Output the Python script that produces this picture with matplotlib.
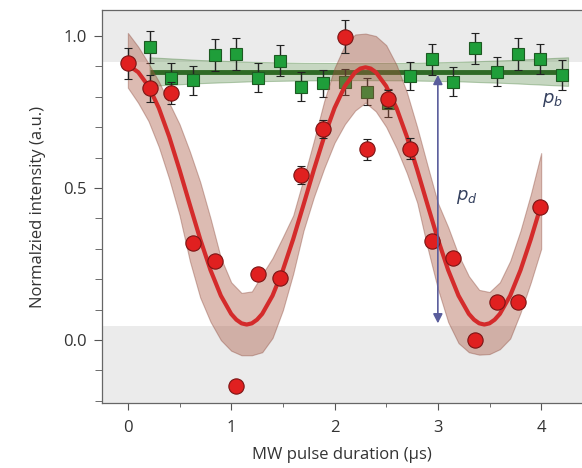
import numpy as np
import matplotlib.pyplot as plt
from matplotlib.ticker import MultipleLocator

plt.rcParams['font.family'] = ['Open Sans', 'DejaVu Sans']

# Datos
t_rojo = [0.00, 0.21, 0.42, 0.63, 0.84, 1.05, 1.26, 1.47, 1.68, 1.89,
          2.10, 2.31, 2.52, 2.73, 2.94, 3.15, 3.36, 3.57, 3.78, 3.99]
y_rojo = [0.910, 0.828, 0.813, 0.320, 0.261, -0.150, 0.217, 0.203, 0.543, 0.695,
          0.998, 0.627, 0.793, 0.630, 0.325, 0.269, 0.000, 0.126, 0.124, 0.436]
err_rojo = [0.050, 0.045, 0.035, 0.015, 0.015, 0.015, 0.015, 0.015, 0.030, 0.030,
            0.055, 0.035, 0.030, 0.035, 0.015, 0.015, 0.010, 0.015, 0.015, 0.015]

t_verde = [0.21, 0.42, 0.63, 0.84, 1.05, 1.26, 1.47, 1.68, 1.89, 2.10,
           2.31, 2.52, 2.73, 2.94, 3.15, 3.36, 3.57, 3.78, 3.99, 4.20]
y_verde = [0.963, 0.861, 0.855, 0.938, 0.940, 0.863, 0.919, 0.833, 0.844, 0.850,
           0.817, 0.779, 0.868, 0.924, 0.850, 0.960, 0.883, 0.940, 0.924, 0.872]
err_verde = [0.052, 0.050, 0.048, 0.052, 0.052, 0.047, 0.050, 0.047, 0.045, 0.043,
             0.044, 0.046, 0.047, 0.051, 0.047, 0.051, 0.048, 0.052, 0.050, 0.048]

# ajuste (curva roja)
t_ajuste = [0.0, 0.05, 0.1, 0.2, 0.3, 0.4, 0.5, 0.6, 0.7, 0.8, 0.9,
            1.0, 1.05, 1.1, 1.15, 1.2, 1.25, 1.3, 1.4, 1.5, 1.6, 1.7, 1.8, 1.9,
            2.0, 2.1, 2.2, 2.25, 2.3, 2.35, 2.4, 2.5, 2.6, 2.7, 2.8, 2.9,
            3.0, 3.1, 3.2, 3.3, 3.35, 3.4, 3.45, 3.5, 3.55, 3.6, 3.7, 3.8, 3.9, 4.0]
y_ajuste = [0.897, 0.893, 0.881, 0.835, 0.763, 0.669, 0.560, 0.445, 0.332, 0.230, 0.146,
            0.086, 0.067, 0.055, 0.051, 0.055, 0.067, 0.086, 0.146, 0.230, 0.332, 0.445, 0.560, 0.669,
            0.763, 0.835, 0.881, 0.893, 0.897, 0.893, 0.881, 0.835, 0.763, 0.669, 0.560, 0.445,
            0.332, 0.230, 0.146, 0.086, 0.067, 0.055, 0.051, 0.055, 0.067, 0.086, 0.146, 0.230, 0.332, 0.445]

# banda del ajuste
t_banda = [0.0, 0.1, 0.2, 0.3, 0.4, 0.5, 0.6, 0.7, 0.8, 0.9,
           1.0, 1.1, 1.2, 1.3, 1.4, 1.5, 1.6, 1.7, 1.8, 1.9,
           2.0, 2.1, 2.2, 2.3, 2.4, 2.5, 2.6, 2.7, 2.8, 2.9,
           3.0, 3.1, 3.2, 3.3, 3.4, 3.5, 3.6, 3.7, 3.8, 3.9, 4.0]
banda_sup = [1.010, 0.965, 0.910, 0.850, 0.780, 0.710, 0.620, 0.520, 0.400, 0.270,
             0.190, 0.155, 0.160, 0.216, 0.270, 0.339, 0.410, 0.530, 0.655, 0.786,
             0.895, 0.970, 1.005, 1.008, 1.000, 0.970, 0.905, 0.815, 0.700, 0.574,
             0.451, 0.371, 0.280, 0.210, 0.165, 0.158, 0.190, 0.260, 0.360, 0.480, 0.615]
banda_inf = [0.830, 0.780, 0.720, 0.635, 0.530, 0.410, 0.260, 0.140, 0.060, 0.000,
             -0.035, -0.050, -0.050, -0.040, 0.007, 0.098, 0.218, 0.360, 0.470, 0.565,
             0.649, 0.710, 0.755, 0.781, 0.752, 0.701, 0.631, 0.549, 0.452, 0.304,
             0.169, 0.059, -0.010, -0.040, -0.048, -0.046, -0.030, 0.005, 0.090, 0.190, 0.300]

# linea verde (fondo p_b) y su banda
t_fondo = [0.21, 0.70, 1.20, 1.70, 2.20, 2.70, 3.20, 3.70, 4.26]
y_fondo = [0.883, 0.883, 0.883, 0.883, 0.883, 0.883, 0.883, 0.883, 0.883]
fondo_sup = [0.930, 0.921, 0.915, 0.912, 0.911, 0.912, 0.915, 0.921, 0.930]
fondo_inf = [0.836, 0.845, 0.851, 0.854, 0.855, 0.854, 0.851, 0.845, 0.836]

zona_sup = 0.915
zona_inf = 0.047

fig = plt.figure(figsize=(5.82, 4.68), dpi=100)
ax = fig.add_axes([0.1753, 0.1389, 0.8247, 0.8397])
ax.set_xlim(-0.25, 4.395)
ax.set_ylim(-0.207, 1.0855)

# zonas grises
ax.axhspan(zona_sup, 1.2, color='#ebebeb', zorder=0, lw=0)
ax.axhspan(-0.3, zona_inf, color='#ebebeb', zorder=0, lw=0)

# fondo verde
ax.fill_between(t_fondo, fondo_inf, fondo_sup, facecolor='#5d8f4e', alpha=0.35,
                edgecolor='#3f7a33', lw=0.8, zorder=1)
ax.plot(t_fondo, y_fondo, color='#2f6a26', lw=3.5, zorder=2, solid_capstyle='butt')
ax.errorbar(t_verde, y_verde, yerr=err_verde, fmt='s', ms=8.5, mfc='#1f9e3a',
            mec='#1d5a22', mew=0.8, ecolor='#222222', elinewidth=1.0, capsize=3,
            capthick=1.0, zorder=3)

# ajuste rojo
ax.fill_between(t_banda, banda_inf, banda_sup, facecolor='#a8553f', alpha=0.40,
                edgecolor='#8c4a3c', lw=0.8, zorder=4)
ax.plot(t_ajuste, y_ajuste, color='#d42b2b', lw=3.0, zorder=5,
        solid_joinstyle='round', solid_capstyle='butt')
ax.errorbar(t_rojo, y_rojo, yerr=err_rojo, fmt='o', ms=11, mfc='#e02020',
            mec='#7a1414', mew=0.8, ecolor='#222222', elinewidth=1.0, capsize=3,
            capthick=1.0, zorder=6)

# flecha p_d
ax.annotate('', xy=(3.0, 0.055), xytext=(3.0, 0.872),
            arrowprops=dict(arrowstyle='<|-|>,head_length=0.55,head_width=0.28',
                            color='#5a5d9c', lw=1.2, shrinkA=0, shrinkB=0), zorder=7)
ax.text(3.28, 0.47, '$p_d$', fontsize=13, color='#34405e', ha='center', va='center')
ax.text(4.11, 0.79, '$p_b$', fontsize=13, color='#34405e', ha='center', va='center')

# ejes
ax.xaxis.set_major_locator(MultipleLocator(1))
ax.xaxis.set_minor_locator(MultipleLocator(0.5))
ax.yaxis.set_minor_locator(MultipleLocator(0.1))
ax.set_yticks([0.0, 0.5, 1.0])
ax.set_yticklabels(['0.0', '0.5', '1.0'])
ax.tick_params(axis='both', which='major', labelsize=12, labelcolor='#333333',
               color='#555555', direction='out')
ax.tick_params(axis='y', which='major', length=6, pad=5)
ax.tick_params(axis='y', which='minor', length=5, color='#555555')
ax.tick_params(axis='x', which='major', length=5, pad=7)
ax.tick_params(axis='x', which='minor', length=3, color='#555555')
for lado in ['left', 'bottom', 'top']:
    ax.spines[lado].set_color('#666666')
    ax.spines[lado].set_linewidth(0.9)
ax.spines['right'].set_visible(False)

ax.set_xlabel('MW pulse duration (μs)', fontsize=12, color='#333333', labelpad=8)
ax.set_ylabel('Normalzied intensity (a.u.)', fontsize=12, color='#333333', labelpad=12)

fig.savefig('out.png', dpi=100)
